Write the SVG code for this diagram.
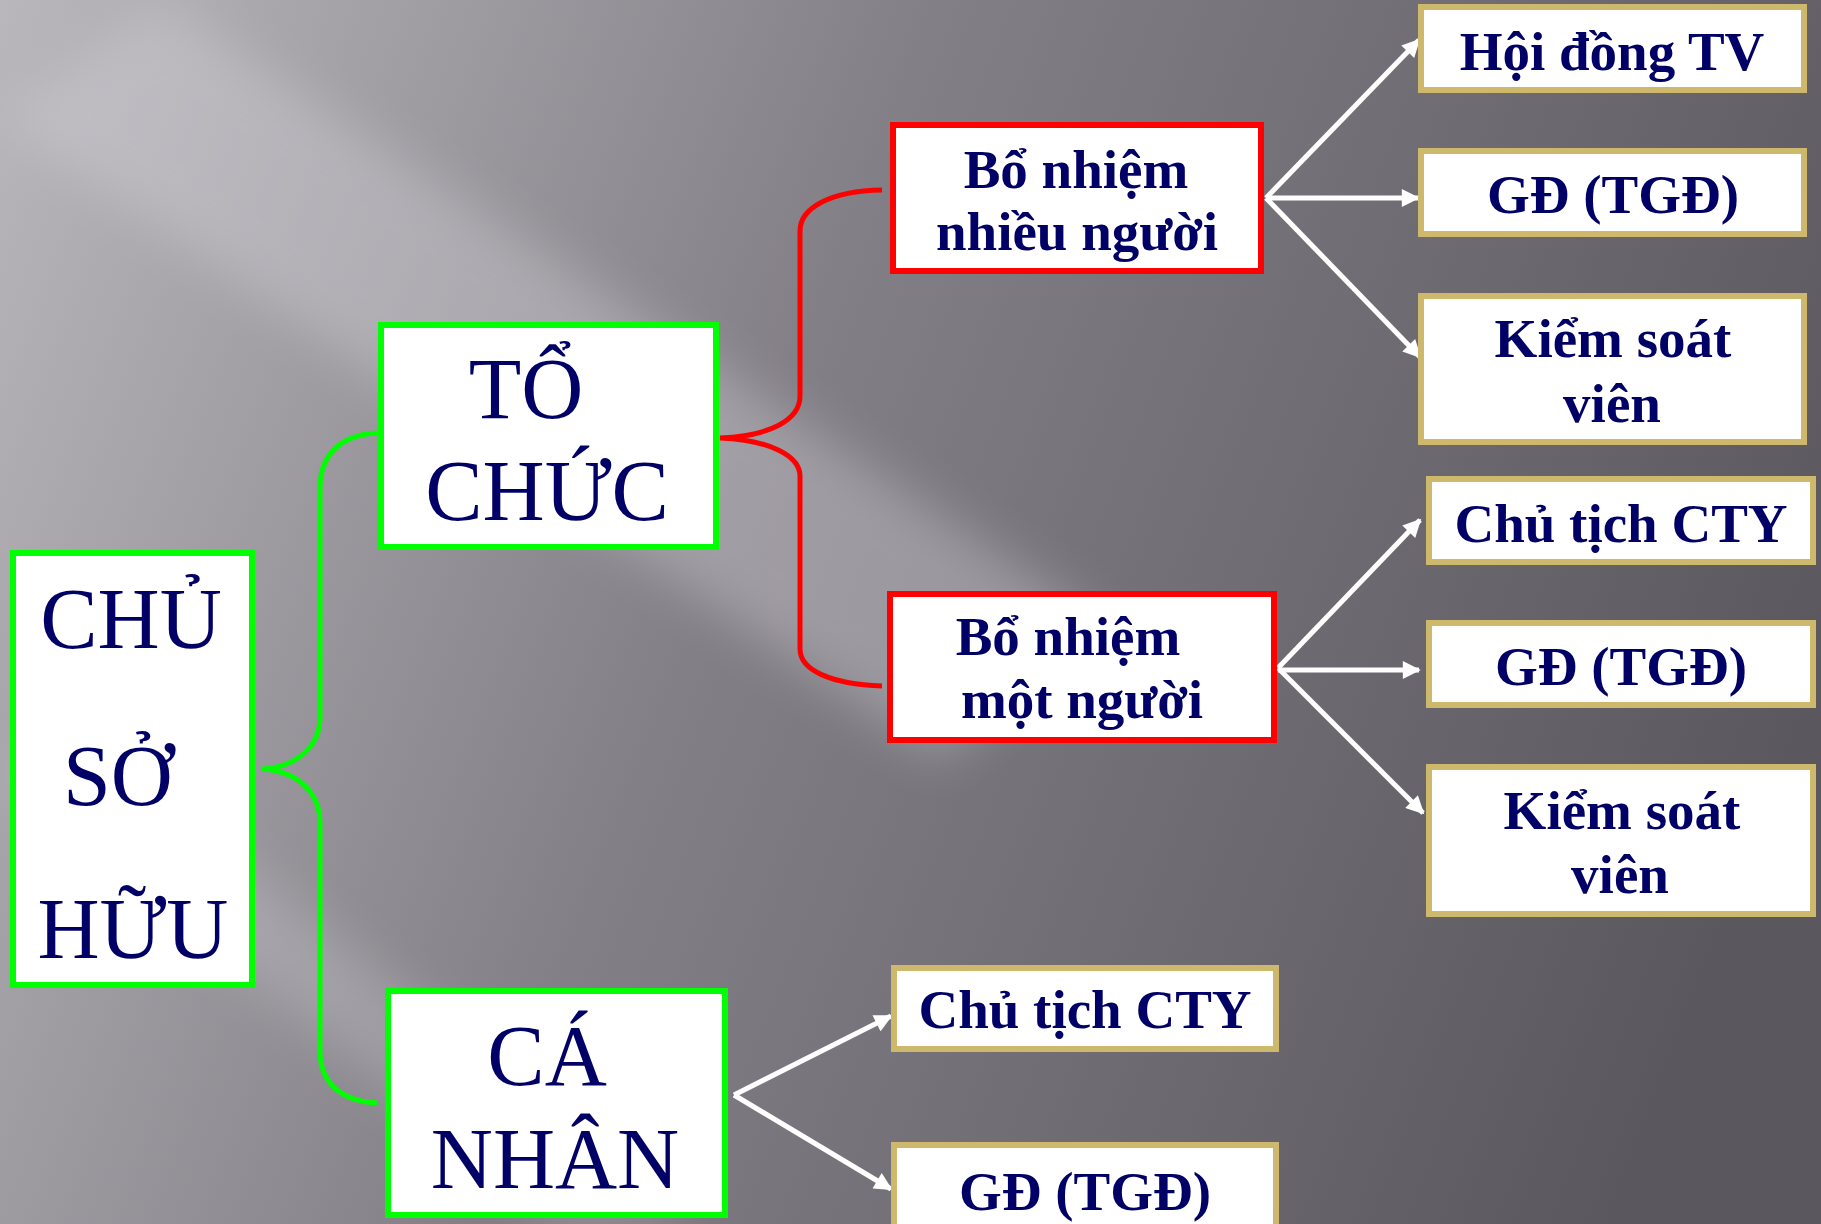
<svg xmlns="http://www.w3.org/2000/svg" width="1821" height="1224" viewBox="0 0 1821 1224">
<style>
.bg{fill:url(#bgGrad)}
.green{fill:#ffffff;stroke:#00ff00;stroke-width:6}
.red{fill:#ffffff;stroke:#ff0000;stroke-width:6}
.gold{fill:#ffffff;stroke:#cdb86c;stroke-width:6}
.big{font-family:"Liberation Serif","Times New Roman",serif;font-size:86px;fill:#000066;text-anchor:middle}
.sm{font-family:"Liberation Serif","Times New Roman",serif;font-size:55px;font-weight:bold;fill:#000066;text-anchor:middle}
.bg-brace{fill:none;stroke:#00ff00;stroke-width:5}
.rd-brace{fill:none;stroke:#ff0000;stroke-width:5}
.arr{fill:none;stroke:#ffffff;stroke-width:5;marker-end:url(#ah)}
</style>
<defs>
<linearGradient id="bgGrad" x1="0" y1="0" x2="1821" y2="700" gradientUnits="userSpaceOnUse">
<stop offset="0" stop-color="#b9b6bc"/>
<stop offset="0.45" stop-color="#828086"/>
<stop offset="1" stop-color="#5a585e"/>
</linearGradient>
<filter id="blur" x="-20%" y="-20%" width="140%" height="140%"><feGaussianBlur stdDeviation="25"/></filter>
<marker id="ah" viewBox="0 0 10 10" refX="9" refY="5" markerWidth="3.8" markerHeight="3.6" orient="auto" markerUnits="strokeWidth">
<path d="M0,0 L10,5 L0,10 Z" fill="#ffffff"/>
</marker>
</defs>
<rect class="bg" x="0" y="0" width="1821" height="1224"/>
<g filter="url(#blur)" opacity="0.35">
<polygon points="0,120 160,0 1100,620 940,760" fill="#d8d6dc"/>
<polygon points="0,780 60,720 700,1224 560,1224" fill="#c8c6cc"/>
</g>
<g id="connectors">
<path class="bg-brace" d="M377,433 C340,435 320,455 320,488 L320,717 C320,745 298,767 262,769 C298,771 320,793 320,823 L320,1051 C320,1082 340,1101 377,1103"/>
<path class="rd-brace" d="M882,190 C830,191 800,208 800,231 L800,396 C800,420 770,436 720,438 C770,440 800,456 800,476 L800,649 C800,670 830,684 882,686"/>
<line class="arr" x1="1266" y1="198" x2="1419" y2="40"/>
<line class="arr" x1="1266" y1="198" x2="1418" y2="198"/>
<line class="arr" x1="1266" y1="198" x2="1420" y2="357"/>
<line class="arr" x1="1278" y1="668" x2="1420" y2="520"/>
<line class="arr" x1="1278" y1="670" x2="1419" y2="670"/>
<line class="arr" x1="1278" y1="668" x2="1423" y2="813"/>
<line class="arr" x1="734" y1="1095" x2="891" y2="1016"/>
<line class="arr" x1="734" y1="1095" x2="891" y2="1189"/>
</g>
<g id="node-chu-so-huu">
<rect class="green" x="13" y="553" width="239" height="432"/>
<text class="big" x="131" y="648">CHỦ</text>
<text class="big" x="118" y="805">SỞ</text>
<text class="big" x="133" y="958">HỮU</text>
</g>
<g id="node-to-chuc">
<rect class="green" x="381" y="325" width="335" height="222"/>
<text class="big" x="526" y="418">TỔ</text>
<text class="big" x="547" y="520">CHỨC</text>
</g>
<g id="node-ca-nhan">
<rect class="green" x="388" y="991" width="337" height="224"/>
<text class="big" x="547" y="1085">CÁ</text>
<text class="big" x="555" y="1188">NHÂN</text>
</g>
<g id="node-bo-nhiem-nhieu">
<rect class="red" x="893" y="125" width="368" height="146"/>
<text class="sm" x="1076" y="188">Bổ nhiệm</text>
<text class="sm" x="1077" y="250">nhiều người</text>
</g>
<g id="node-bo-nhiem-mot">
<rect class="red" x="890" y="594" width="384" height="146"/>
<text class="sm" x="1068" y="655">Bổ nhiệm</text>
<text class="sm" x="1082" y="718">một người</text>
</g>
<g id="node-hoi-dong">
<rect class="gold" x="1421" y="7" width="383" height="83"/>
<text class="sm" x="1612" y="70">Hội đồng TV</text>
</g>
<g id="node-gd-1">
<rect class="gold" x="1421" y="151" width="383" height="83"/>
<text class="sm" x="1613" y="213">GĐ (TGĐ)</text>
</g>
<g id="node-ks-1">
<rect class="gold" x="1421" y="296" width="383" height="146"/>
<text class="sm" x="1613" y="357">Kiểm soát</text>
<text class="sm" x="1612" y="422">viên</text>
</g>
<g id="node-ct-2">
<rect class="gold" x="1429" y="479" width="384" height="83"/>
<text class="sm" x="1621" y="542">Chủ tịch CTY</text>
</g>
<g id="node-gd-2">
<rect class="gold" x="1429" y="623" width="384" height="82"/>
<text class="sm" x="1621" y="685">GĐ (TGĐ)</text>
</g>
<g id="node-ks-2">
<rect class="gold" x="1429" y="767" width="384" height="147"/>
<text class="sm" x="1622" y="829">Kiểm soát</text>
<text class="sm" x="1620" y="893">viên</text>
</g>
<g id="node-ct-3">
<rect class="gold" x="894" y="968" width="382" height="81"/>
<text class="sm" x="1085" y="1028">Chủ tịch CTY</text>
</g>
<g id="node-gd-3">
<rect class="gold" x="894" y="1145" width="382" height="100"/>
<text class="sm" x="1085" y="1210">GĐ (TGĐ)</text>
</g>
</svg>
